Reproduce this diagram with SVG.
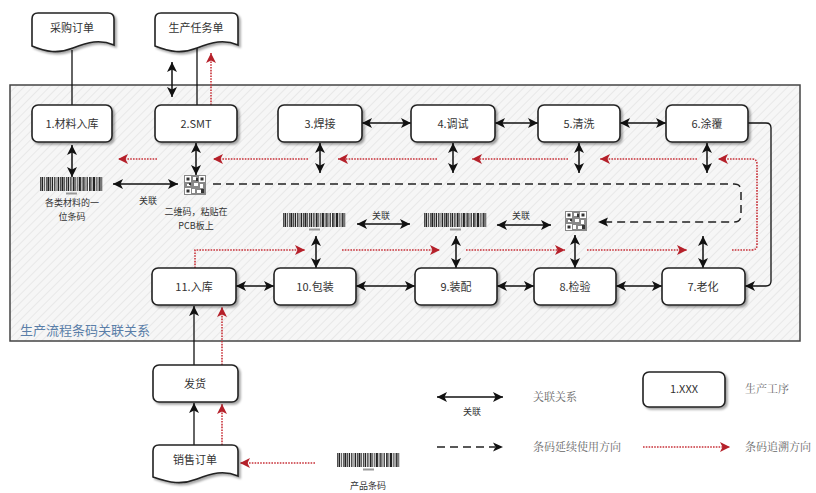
<svg xmlns="http://www.w3.org/2000/svg" width="816" height="493" viewBox="0 0 816 493">
<style>
.box{fill:#fff;stroke:#222;stroke-width:1.6;filter:url(#sh)}
.t{font-family:"Noto Sans CJK SC","Noto Sans",sans-serif;font-size:11px;fill:#333;text-anchor:middle}
.s{font-family:"Noto Sans CJK SC","Noto Sans",sans-serif;font-size:9px;fill:#333;text-anchor:middle}
.lg{font-family:"Noto Serif CJK SC","Noto Sans CJK SC",serif;font-size:11px;fill:#666}
.ln{fill:none;stroke:#111;stroke-width:1.3}
.dbl{fill:none;stroke:#111;stroke-width:1.5;marker-start:url(#ab);marker-end:url(#ab)}
.one{fill:none;stroke:#111;stroke-width:1.3;marker-end:url(#ab)}
.dash{fill:none;stroke:#222;stroke-width:1.5;stroke-dasharray:8 5}
.red{fill:none;stroke:#c8323a;stroke-width:1.6;stroke-dasharray:1.6 1.2;marker-end:url(#ar)}
</style>
<defs>
<pattern id="hatch" width="6" height="6" patternUnits="userSpaceOnUse" patternTransform="rotate(45)">
<rect width="6" height="6" fill="#f6f6f6"/>
<line x1="0" y1="0" x2="0" y2="6" stroke="#e2e2e2" stroke-width="1.4"/>
</pattern>
<filter id="sh" x="-10%" y="-10%" width="130%" height="140%">
<feDropShadow dx="2" dy="2" stdDeviation="1.2" flood-color="#000" flood-opacity="0.35"/>
</filter>
<marker id="ab" viewBox="0 0 10 10" refX="10" refY="5" markerWidth="10" markerHeight="10" markerUnits="userSpaceOnUse" orient="auto-start-reverse">
<path d="M0,0 L10,5 L0,10 L2.5,5 Z" fill="#111"/>
</marker>
<marker id="ar" viewBox="0 0 10 10" refX="10" refY="5" markerWidth="11" markerHeight="10" markerUnits="userSpaceOnUse" orient="auto">
<path d="M0,0 L10,5 L0,10 L2.5,5 Z" fill="#b5202a"/>
</marker>
<g id="bc">
<line x1="0" y1="7" x2="63" y2="7" stroke="#222" stroke-width="14" stroke-dasharray="0.8 0.7 1.6 0.8 0.8 1.2 0.8 0.7 2 0.8 0.8 0.7 1.4 1 0.8 0.7 0.8 1.2 1.6 0.8 0.8 0.7 2 0.8 0.8 1 0.8 0.7 1.5 0.8 0.8 0.8"/>
<rect x="26" y="15.5" width="11" height="2" fill="#999"/>
</g>
<g id="qr">
<rect width="22" height="20" fill="#888"/>
<path d="M1,1h6v6h-6z M15,1h6v6h-6z M1,13h6v6h-6z M9,2h3v3h-3z M10,8h4v3h-4z M16,9h3v4h-3z M8,14h3v4h-3z M13,15h4v3h-4z M3,9h3v2h-3z" fill="#fff"/>
<path d="M2.5,2.5h3v3h-3z M16.5,2.5h3v3h-3z M2.5,14.5h3v3h-3z M12,3h2v3h-2z M17,14h3v4h-3z M5,8h2v2h-2z" fill="#333"/>
</g>
</defs>

<g id="frame">
<rect x="10" y="85" width="790" height="256" fill="url(#hatch)" stroke="#444" stroke-width="1.5"/>
<text x="20" y="335" font-family="Noto Sans CJK SC,sans-serif" font-size="13" fill="#5a7ea8">生产流程条码关联关系</text>
</g>

<g id="connectors">
<path class="ln" d="M72,50 V105"/>
<path class="ln" d="M197,47 V105"/>
<path class="dbl" d="M172,62 V97"/>
<path class="red" d="M211,105 V53"/>
<path class="dbl" d="M72,145 V177"/>
<path class="dbl" d="M196,143 V175"/>
<path class="dbl" d="M320,143 V173"/>
<path class="dbl" d="M453,143 V173"/>
<path class="dbl" d="M579,143 V173"/>
<path class="dbl" d="M707,143 V173"/>
<path class="dbl" d="M362,123 H411"/>
<path class="dbl" d="M495,123 H538"/>
<path class="dbl" d="M620,123 H666"/>
<path class="one" d="M748,123 H766 Q771,123 771,128 V281 Q771,286 766,286 H745"/>
<path class="dbl" d="M236,286 H274"/>
<path class="dbl" d="M356,286 H415"/>
<path class="dbl" d="M497,286 H534"/>
<path class="dbl" d="M616,286 H662"/>
<path class="dbl" d="M113,184 H178"/>
<path class="dbl" d="M357,224 H410"/>
<path class="dbl" d="M497,225 H551"/>
<path class="dbl" d="M316,236 V268"/>
<path class="dbl" d="M456,236 V268"/>
<path class="dbl" d="M575,235 V268"/>
<path class="dbl" d="M703,236 V268"/>
<path class="dash" d="M213,184 H734 Q741,184 741,191 V215 Q741,222 734,222 H606"/>
<path d="M598,222 L608,217.5 L606,222 L608,226.5 Z" fill="#111"/>
<path class="red" d="M157,159 H118"/>
<path class="red" d="M308,159 H213"/>
<path class="red" d="M437,159 H338"/>
<path class="red" d="M568,159 H472"/>
<path class="red" d="M697,159 H600"/>
<path class="red" d="M732,250 H752 Q757,250 757,245 V164 Q757,159 752,159 H718"/>
<path class="red" d="M195,268 V250 H305"/>
<path class="red" d="M342,250 H440"/>
<path class="red" d="M466,250 H565"/>
<path class="red" d="M587,250 H687"/>
<path class="one" d="M194,365 V306"/>
<path class="one" d="M194,445 V403"/>
<path class="red" d="M222,365 V307"/>
<path class="red" d="M222,445 V404"/>
<path class="red" d="M315,463 H240"/>
</g>

<g id="doc-purchase">
<path class="box" d="M38,13 H108 Q114,13 114,19 V45 C100,39 88,42 73,48 C58,54 46,52 32,46 V19 Q32,13 38,13 Z"/>
<text class="t" x="72" y="32">采购订单</text>
</g>
<g id="doc-task">
<path class="box" d="M161,13 H232 Q238,13 238,19 V45 C224,39 212,42 197,48 C182,54 170,52 155,46 V19 Q155,13 161,13 Z"/>
<text class="t" x="196" y="32">生产任务单</text>
</g>

<g id="n1"><rect class="box" x="32" y="105" width="80" height="37" rx="6"/><text class="t" x="72" y="128">1.材料入库</text></g>
<g id="n2"><rect class="box" x="155" y="105" width="82" height="37" rx="6"/><text class="t" x="196" y="128">2.SMT</text></g>
<g id="n3"><rect class="box" x="278" y="105" width="84" height="37" rx="6"/><text class="t" x="320" y="128">3.焊接</text></g>
<g id="n4"><rect class="box" x="411" y="105" width="84" height="37" rx="6"/><text class="t" x="453" y="128">4.调试</text></g>
<g id="n5"><rect class="box" x="538" y="105" width="82" height="37" rx="6"/><text class="t" x="579" y="128">5.清洗</text></g>
<g id="n6"><rect class="box" x="666" y="105" width="82" height="37" rx="6"/><text class="t" x="707" y="128">6.涂覆</text></g>

<g id="n11"><rect class="box" x="152" y="268" width="84" height="37" rx="6"/><text class="t" x="194" y="291">11.入库</text></g>
<g id="n10"><rect class="box" x="274" y="268" width="82" height="37" rx="6"/><text class="t" x="315" y="291">10.包装</text></g>
<g id="n9"><rect class="box" x="415" y="268" width="82" height="37" rx="6"/><text class="t" x="456" y="291">9.装配</text></g>
<g id="n8"><rect class="box" x="534" y="268" width="82" height="37" rx="6"/><text class="t" x="575" y="291">8.检验</text></g>
<g id="n7"><rect class="box" x="662" y="268" width="83" height="37" rx="6"/><text class="t" x="703" y="291">7.老化</text></g>

<g id="ship"><rect class="box" x="153" y="365" width="85" height="37" rx="6"/><text class="t" x="195" y="388">发货</text></g>
<g id="doc-sales">
<path class="box" d="M159,445 H232 Q238,445 238,451 V476 C224,470 212,473 197,479 C182,485 170,483 153,477 V451 Q153,445 159,445 Z"/>
<text class="t" x="195" y="464">销售订单</text>
</g>

<g id="code-material">
<use href="#bc" x="40" y="177"/>
<text class="s" x="72" y="206">各类材料的一</text>
<text class="s" x="72" y="220">位条码</text>
</g>
<text class="s" x="148" y="204">关联</text>
<g id="code-qr1">
<use href="#qr" x="184" y="175"/>
<text class="s" x="196" y="215">二维码，粘贴在</text>
<text class="s" x="196" y="229">PCB板上</text>
</g>
<g id="code-pack"><use href="#bc" x="283" y="213"/></g>
<text class="s" x="381" y="219">关联</text>
<g id="code-assy"><use href="#bc" x="424" y="213"/></g>
<text class="s" x="521" y="219">关联</text>
<g id="code-qr2"><use href="#qr" x="565" y="211"/></g>
<g id="code-product">
<use href="#bc" x="337" y="453"/>
<text class="s" x="368" y="489">产品条码</text>
</g>

<g id="legend">
<path class="dbl" d="M437,397 H503"/>
<text class="s" x="472" y="415">关联</text>
<text class="lg" x="533" y="401">关联关系</text>
<rect class="box" x="643" y="372" width="82" height="35" rx="6"/>
<text class="t" x="684" y="393">1.XXX</text>
<text class="lg" x="745" y="393">生产工序</text>
<path class="dash" d="M437,447 H495"/>
<path d="M503,447 L493,442.5 L495.5,447 L493,451.5 Z" fill="#111"/>
<text class="lg" x="533" y="451">条码延续使用方向</text>
<path class="red" d="M643,447 H730"/>
<text class="lg" x="745" y="451">条码追溯方向</text>
</g>
</svg>
